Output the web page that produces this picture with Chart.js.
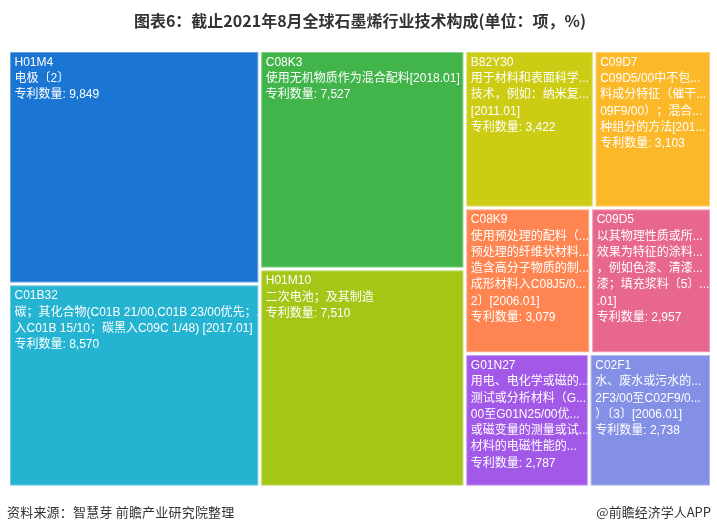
<!DOCTYPE html>
<html>
<head>
<meta charset="utf-8">
<script src="https://cdn.jsdelivr.net/npm/chart.js@4/dist/chart.umd.min.js"></script>
<style>
  html, body { margin: 0; padding: 0; background: #fff; }
  #wrap { position: relative; width: 717px; height: 531px; }
  canvas { display: block; }
  .foot { position: absolute; top: 502px; font: 13px 'Noto Sans CJK SC', sans-serif; color: #333; white-space: nowrap; }
  #src { left: 7px; letter-spacing: 0.2px; }
  #brand { right: 6px; }
</style>
</head>
<body>
<div id="wrap">
  <canvas id="c" width="717" height="531"></canvas>
  <div class="foot" id="src">资料来源：智慧芽 前瞻产业研究院整理</div>
  <div class="foot" id="brand">@前瞻经济学人APP</div>
</div>
<script>
// ---------- data ----------
const codes = ['H01M4', 'C01B32', 'C08K3', 'H01M10', 'B82Y30', 'C09D7', 'C08K9', 'C09D5', 'G01N27', 'C02F1'];
const counts = [9849, 8570, 7527, 7510, 3422, 3103, 3079, 2957, 2787, 2738];
const descriptions = [
  ['电极〔2〕'],
  ['碳；其化合物(C01B 21/00,C01B 23/00优先；...', '入C01B 15/10；碳黑入C09C 1/48) [2017.01]'],
  ['使用无机物质作为混合配料[2018.01]'],
  ['二次电池；及其制造'],
  ['用于材料和表面科学...', '技术，例如：纳米复...', '[2011.01]'],
  ['C09D5/00中不包...', '料成分特征（催干...', '09F9/00）；混合...', '种组分的方法[201...'],
  ['使用预处理的配料（...', '预处理的纤维状材料...', '造含高分子物质的制...', '成形材料入C08J5/0...', '2〕[2006.01]'],
  ['以其物理性质或所...', '效果为特征的涂料...', '，例如色漆、清漆...', '漆；填充浆料〔5〕...', '.01]'],
  ['用电、电化学或磁的...', '测试或分析材料（G...', '00至G01N25/00优...', '或磁变量的测量或试...', '材料的电磁性能的...'],
  ['水、废水或污水的...', '2F3/00至C02F9/0...', '）〔3〕[2006.01]']
];
const colors = ['#1a76d2', '#24b3d0', '#41b54a', '#a3c617', '#cccc14', '#fbb829', '#fe8551', '#e8678f', '#a259e8', '#8390e6'];
const countLabel = '专利数量: ';
const titleText = '图表6：截止2021年8月全球石墨烯行业技术构成(单位：项，%)';

// ---------- squarified treemap layout (from values) ----------
function squarify(items, x, y, w, h) {
  const out = [];
  const sum = a => a.reduce((s, d) => s + d.v, 0);
  function worst(row, short, scale) {
    const s = sum(row) * scale;
    const mx = Math.max(...row.map(d => d.v)) * scale;
    const mn = Math.min(...row.map(d => d.v)) * scale;
    return Math.max(short * short * mx / (s * s), (s * s) / (short * short * mn));
  }
  let rem = items.slice();
  while (rem.length) {
    const scale = (w * h) / sum(rem);
    const short = Math.min(w, h);
    let row = [rem[0]];
    let i = 1;
    while (i < rem.length) {
      const cand = row.concat([rem[i]]);
      if (worst(cand, short, scale) <= worst(row, short, scale)) { row = cand; i++; } else break;
    }
    const thick = sum(row) * scale / short;
    if (w >= h) {
      let cy = y;
      row.forEach(d => { const hh = d.v * scale / thick; out.push({ i: d.i, x: x, y: cy, w: thick, h: hh }); cy += hh; });
      x += thick; w -= thick;
    } else {
      let cx = x;
      row.forEach(d => { const ww = d.v * scale / thick; out.push({ i: d.i, x: cx, y: y, w: ww, h: thick }); cx += ww; });
      y += thick; h -= thick;
    }
    rem = rem.slice(row.length);
  }
  return out;
}

const treemapPlugin = {
  id: 'treemapCells',
  afterDatasetsDraw(chart) {
    const { ctx, chartArea: ca, scales } = chart;
    const W = ca.right - ca.left, H = ca.bottom - ca.top;
    const items = counts.map((v, i) => ({ v, i }));
    const rects = squarify(items, 0, 0, W, H);
    const gap = 1.5;
    ctx.save();
    rects.forEach(r => {
      const x0 = scales.x.getPixelForValue(r.x / W);
      const x1 = scales.x.getPixelForValue((r.x + r.w) / W);
      const y0 = scales.y.getPixelForValue(r.y / H);
      const y1 = scales.y.getPixelForValue((r.y + r.h) / H);
      const left = Math.min(x0, x1) + gap, right = Math.max(x0, x1) - gap;
      const top = Math.min(y0, y1) + gap, bottom = Math.max(y0, y1) - gap;
      ctx.fillStyle = colors[r.i];
      ctx.fillRect(left, top, right - left, bottom - top);
      ctx.strokeStyle = 'rgba(255,255,255,0.35)';
      ctx.lineWidth = 1;
      ctx.strokeRect(left + 0.5, top + 0.5, right - left - 1, bottom - top - 1);
      // labels
      ctx.save();
      ctx.beginPath();
      ctx.rect(left, top, right - left, bottom - top);
      ctx.clip();
      ctx.fillStyle = '#ffffff';
      ctx.font = "12px 'Liberation Sans', 'Noto Sans CJK SC', sans-serif";
      ctx.textBaseline = 'middle';
      ctx.textAlign = 'left';
      const lines = [codes[r.i]].concat(descriptions[r.i], [countLabel + counts[r.i].toLocaleString('en-US')]);
      lines.forEach((t, k) => ctx.fillText(t, left + 4.5, top + 10.5 + k * 16.3));
      ctx.restore();
    });
    ctx.restore();
  }
};

new Chart(document.getElementById('c'), {
  type: 'scatter',
  data: { datasets: [{ label: 'cells', data: counts.map((v, i) => ({ x: 0, y: 0 })), pointRadius: 0, pointHoverRadius: 0 }] },
  options: {
    responsive: false,
    animation: false,
    events: [],
    layout: { padding: { left: 8.5, right: 5.5, top: 0, bottom: 44 } },
    scales: {
      x: { type: 'linear', min: 0, max: 1, display: false },
      y: { type: 'linear', min: 0, max: 1, reverse: true, display: false }
    },
    plugins: {
      legend: { display: false },
      tooltip: { enabled: false },
      title: {
        display: true,
        text: titleText,
        color: '#333333',
        font: { family: "'Noto Sans CJK SC', sans-serif", size: 16, weight: 'bold', lineHeight: 1.2 },
        padding: { top: 11, bottom: 20.3 }
      }
    }
  },
  plugins: [treemapPlugin]
});
</script>
</body>
</html>
